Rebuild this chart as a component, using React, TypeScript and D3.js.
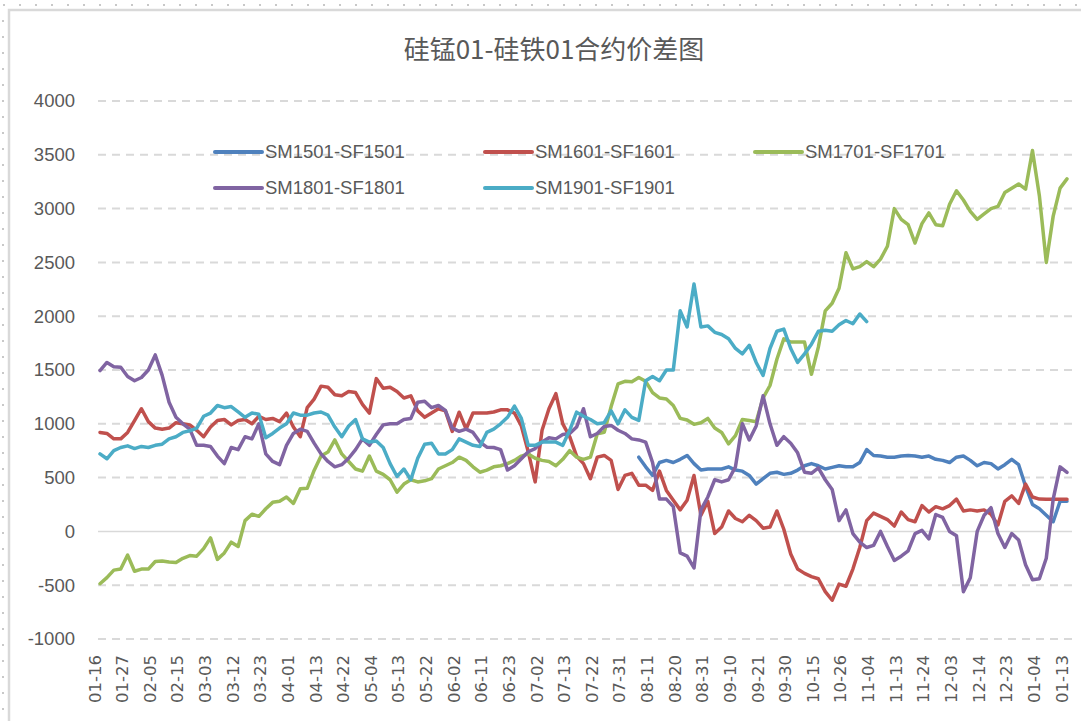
import * as d3 from 'd3';

const tickLabels = [
  '01-16', '01-27', '02-05', '02-15', '03-03', '03-12', '03-23', '04-01', '04-13', '04-22',
  '05-04', '05-13', '05-22', '06-02', '06-11', '06-23', '07-02', '07-13', '07-22', '07-31',
  '08-11', '08-20', '08-31', '09-10', '09-21', '09-30', '10-15', '10-26', '11-04', '11-13',
  '11-24', '12-03', '12-14', '12-23', '01-04', '01-13',
];
// one tick label every 4 samples
const STEP = 4;

const sm1501: (number | null)[] = [
  ...Array(78).fill(null),
  690, 600, 520, 640, 660, 640, 670, 706, 630, 570, 580, 580, 580, 600, 570, 560, 520, 440, 490, 540,
  550, 530, 540, 570, 610, 630, 610, 580, 595, 610, 600, 600, 640, 760, 705, 700, 690, 690, 700, 705,
  700, 690, 700, 670, 660, 640, 690, 700, 660, 610, 640, 630, 580, 620, 670, 620, 420, 250, 210, 150,
  90, 280, 280,
];

const sm1601 = [
  920, 910, 860, 860, 920, 1030, 1140, 1020, 960, 950, 960, 1010, 1000, 990, 940, 880, 970, 1030, 1040, 990,
  1030, 1040, 1000, 1070, 1040, 1050, 1020, 1100, 970, 880, 1150, 1230, 1350, 1340, 1270, 1260, 1300, 1290, 1180, 1100,
  1420, 1330, 1340, 1300, 1240, 1260, 1120, 1060, 1100, 1140, 1120, 930, 1108, 950, 1100, 1100, 1100, 1110, 1130, 1130,
  1100, 980, 740, 460, 940, 1140, 1280, 1000, 880, 700, 630, 490, 690, 706, 660, 390, 520, 540, 430, 430,
  381, 560, 381, 290, 200, 290, 520, 150, 280, -20, 40, 190, 120, 90, 150, 100, 30, 40, 190, 20,
  -210, -350, -390, -420, -440, -560, -640, -490, -510, -350, -150, 100, 170, 140, 110, 50, 180, 110, 90, 240,
  180, 230, 210, 240, 300, 190, 200, 190, 200, 160, 60, 280, 330, 260, 440, 320, 300, 298, 298, 298,
  298,
];

const sm1701 = [
  -486, -430, -360, -350, -220, -370, -350, -350, -280, -275, -285, -290, -250, -225, -230, -160, -60, -260, -200, -100,
  -140, 100, 160, 140, 210, 270, 280, 320, 260, 396, 400, 567, 700, 737, 850, 720, 650, 580, 560, 700,
  560, 530, 480, 365, 440, 480, 460, 470, 490, 580, 610, 640, 690, 660, 600, 550, 570, 600, 610, 630,
  660, 700, 720, 680, 660, 650, 610, 670, 750, 690, 670, 690, 907, 920, 1160, 1370, 1395, 1390, 1430, 1395,
  1290, 1240, 1230, 1170, 1050, 1035, 995, 1010, 1050, 960, 920, 814, 890, 1040, 1030, 1020, 1240, 1356, 1600, 1790,
  1760, 1760, 1760, 1460, 1712, 2050, 2120, 2260, 2590, 2440, 2460, 2508, 2460, 2530, 2650, 3000, 2900, 2850, 2680, 2860,
  2960, 2850, 2840, 3040, 3166, 3080, 2975, 2900, 2950, 3000, 3020, 3150, 3190, 3229, 3180, 3540, 3120, 2500, 2930, 3190,
  3276,
];

const sm1801 = [
  1495, 1570, 1530, 1525, 1440, 1400, 1430, 1500, 1640, 1450, 1200, 1060, 1000, 950, 800, 800, 790, 700, 630, 780,
  760, 880, 860, 1000, 720, 650, 620, 800, 910, 950, 930, 820, 720, 650, 600, 620, 680, 760, 860, 800,
  900, 990, 1000, 1000, 1040, 1050, 1200, 1210, 1150, 1170, 1124, 960, 930, 950, 920, 830, 783, 780, 760, 570,
  610, 675, 740, 770, 830, 870, 860, 900, 910, 970, 1140, 880, 910, 975, 985, 940, 910, 860, 850, 830,
  640, 300, 300, 230, -200, -230, -340, 200, 320, 480, 460, 480, 600, 1000, 850, 980, 1260, 1000, 800, 880,
  820, 730, 550, 540, 590, 480, 390, 100, 200, -20, -100, -150, -130, 0, -140, -270, -230, -180, -20, 10,
  -70, 157, 130, 0, -40, -560, -430, 0, 150, 220, -20, -150, -20, -80, -310, -450, -440, -250, 300, 600,
  549,
];

const sm1901 = [
  720, 675, 750, 780, 795, 770, 790, 780, 800, 810, 860, 880, 920, 935, 960, 1070, 1100, 1170, 1150, 1160,
  1110, 1060, 1100, 1090, 870, 910, 960, 1000, 1100, 1080, 1080, 1100, 1110, 1080, 970, 880, 980, 1040, 860, 830,
  840, 780, 630, 510, 580, 480, 680, 810, 820, 720, 720, 760, 860, 830, 800, 790, 920, 950, 1000, 1060,
  1165, 1050, 800, 800, 830, 830, 830, 800, 940, 1108, 1070, 1040, 1000, 1010, 1120, 1000, 1130, 1060, 1031, 1400,
  1440, 1400, 1500, 1500, 2050, 1900, 2300, 1900, 1910, 1850, 1830, 1790, 1700, 1650, 1730, 1570, 1450, 1700, 1860, 1880,
  1700, 1570, 1650, 1740, 1860, 1870, 1860, 1920, 1960, 1930, 2020, 1950,
];

const yTicks = [-1000, -500, 0, 500, 1000, 1500, 2000, 2500, 3000, 3500, 4000];

const series = [
  { name: 'SM1501-SF1501', values: sm1501, color: '#4F81BD' },
  { name: 'SM1601-SF1601', values: sm1601, color: '#C0504D' },
  { name: 'SM1701-SF1701', values: sm1701, color: '#9BBB59' },
  { name: 'SM1801-SF1801', values: sm1801, color: '#8064A2' },
  { name: 'SM1901-SF1901', values: sm1901, color: '#4BACC6' },
];

const legendPos = [
  [215, 152], [485, 152], [755, 152],
  [215, 188], [485, 188],
];

const App = () => {
  const n = sm1701.length;
  const x = d3.scaleLinear().domain([0, n - 1]).range([100, 1067]);
  const y = d3.scaleLinear().domain([-1000, 4000]).range([639, 101]);

  const line = d3
    .line<number | null>()
    .defined((d) => d != null)
    .x((_, i) => x(i))
    .y((d) => y(d as number));

  const textColor = '#595959';

  return (
    <svg width={1081} height={721} style={{ position: 'absolute', left: 0, top: 0, background: '#fff' }}>
      {/* sheet gridline dots and chart frame */}
      <line x1={3} x2={1081} y1={5} y2={5} stroke="#c8c8c8" strokeWidth={2} strokeDasharray="2 14" />
      <line x1={3} x2={3} y1={20} y2={721} stroke="#c8c8c8" strokeWidth={2} strokeDasharray="2 14" />
      <path d="M9,721 V10 H1081" fill="none" stroke="#d9d9d9" strokeWidth={2.5} />

      <text
        x={554}
        y={59}
        textAnchor="middle"
        fontFamily="'Noto Sans CJK SC', sans-serif"
        fontSize={26}
        fill={textColor}
      >
        硅锰01-硅铁01合约价差图
      </text>

      {yTicks.map((t) => (
        <g key={t}>
          <line
            x1={98}
            x2={1072}
            y1={y(t)}
            y2={y(t)}
            stroke="#d9d9d9"
            strokeWidth={t === 0 ? 1.5 : 2}
            strokeDasharray={t === 0 ? undefined : '8 6'}
          />
          <text
            x={75}
            y={y(t)}
            dy="0.35em"
            textAnchor="end"
            fontFamily="'Liberation Sans', Arial, sans-serif"
            fontSize={18.5}
            fill={textColor}
          >
            {t}
          </text>
        </g>
      ))}

      {tickLabels.map((lab, k) => (
        <text
          key={k}
          transform={`translate(${x(k * STEP) + 0.5},655) rotate(-90)`}
          textAnchor="end"
          fontFamily="'DejaVu Sans', sans-serif"
          fontSize={16.5}
          fill={textColor}
        >
          {lab}
        </text>
      ))}

      {series.map((s) => (
        <path
          key={s.name}
          d={line(s.values) ?? ''}
          fill="none"
          stroke={s.color}
          strokeWidth={3.5}
          strokeLinejoin="round"
          strokeLinecap="round"
        />
      ))}

      {series.map((s, i) => {
        const [lx, ly] = legendPos[i];
        return (
          <g key={s.name} transform={`translate(${lx},${ly})`}>
            <line x1={0} x2={47} y1={0} y2={0} stroke={s.color} strokeWidth={4} strokeLinecap="round" />
            <text
              x={50}
              y={0}
              dy="0.35em"
              fontFamily="'Liberation Sans', Arial, sans-serif"
              fontSize={18.5}
              fill={textColor}
            >
              {s.name}
            </text>
          </g>
        );
      })}
    </svg>
  );
};

export default App;
